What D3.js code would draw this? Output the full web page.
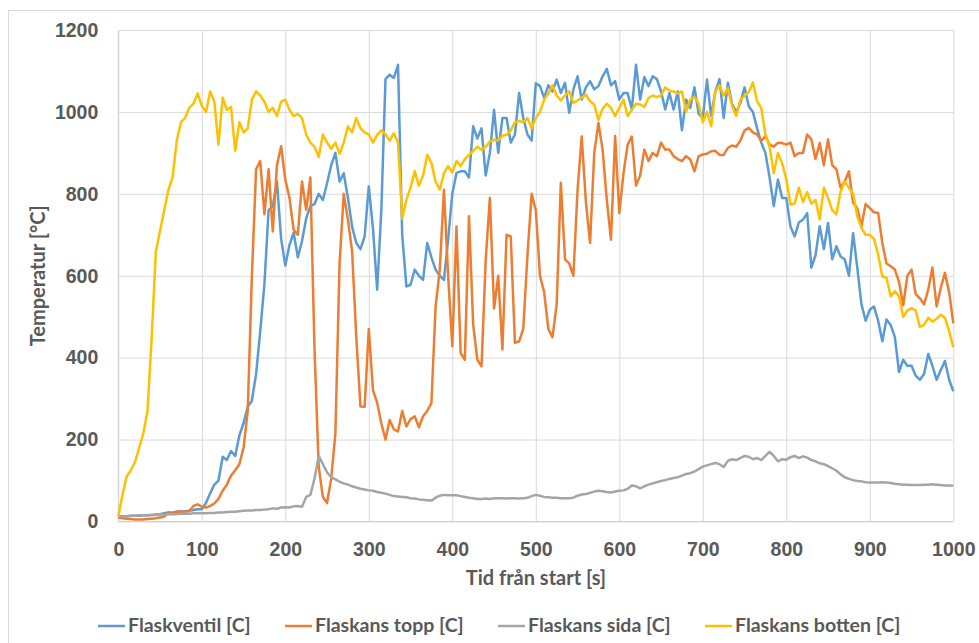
<!DOCTYPE html>
<html>
<head>
<meta charset="utf-8">
<script src="https://cdn.jsdelivr.net/npm/d3@7"></script>
<style>
  body { margin: 0; background: #fff; }
  svg { display: block; font-family: Lato, "Open Sans", sans-serif; font-weight: bold; }
  .tick text { fill: #595959; font-size: 19.5px; }
</style>
</head>
<body>
<svg id="chart" width="979" height="643"></svg>
<script>
// time axis, one reading every 5 s
var tid = d3.range(0, 1001, 5);

var flaskventil = [
  10, 12, 13, 14, 14, 14, 15, 15, 16, 17,
  18, 20, 22, 22, 24, 24, 25, 26, 28, 30,
  30, 45, 69, 90, 100, 158, 150, 172, 160, 210,
  240, 280, 295, 360, 465, 580, 760, 770, 830, 690,
  625, 675, 705, 645, 685, 740, 770, 775, 800, 785,
  826, 870, 900, 830, 850, 790, 720, 680, 665, 696,
  818, 715, 566, 760, 1080, 1091, 1083, 1115, 700, 574,
  578, 615, 600, 590, 680, 645, 615, 600, 590, 688,
  800, 851, 855, 855, 840, 965, 935, 960, 845, 900,
  1005, 900, 985, 985, 925, 945, 1046, 985, 945, 930,
  1070, 1063, 1035, 1065, 1050, 1079, 1046, 1071, 998, 1055,
  1087, 1030, 1060, 1075, 1055, 1063, 1087, 1105, 1065, 1075,
  1030, 1046, 1046, 1006, 1115, 1030, 1085, 1063, 1087, 1080,
  1050, 1006, 1046, 1006, 1050, 955, 1030, 1010, 1060, 995,
  985, 1079, 990, 1050, 1080, 985, 1071, 1020, 1000, 1022,
  1060, 1014, 1000, 960, 925, 900, 840, 770, 835, 790,
  790, 720, 696, 730, 737, 753, 620, 650, 721, 665,
  729, 640, 672, 647, 640, 600, 704, 620, 530, 490,
  517, 525, 490, 440, 493, 480, 450, 365, 395, 380,
  380, 356, 346, 360, 409, 380, 346, 370, 392, 346,
  318
];

var flaskansTopp = [
  10, 8, 7, 6, 5, 5, 5, 6, 7, 8,
  10, 12, 22, 18, 24, 25, 22, 26, 38, 42,
  36, 34, 38, 44, 55, 75, 90, 112, 125, 140,
  180, 270, 600, 860, 880, 750, 860, 708, 870, 916,
  835, 790, 712, 700, 830, 761, 840, 420, 134, 60,
  45, 105, 215, 631, 800, 737, 660, 450, 281, 280,
  470, 321, 290, 240, 200, 248, 225, 220, 270, 232,
  250, 257, 230, 257, 270, 289, 525, 615, 810, 600,
  428, 720, 411, 395, 745, 480, 395, 379, 639, 790,
  520, 600, 420, 700, 696, 436, 440, 470, 650, 800,
  760, 600, 560, 470, 450, 530, 827, 640, 630, 600,
  810, 940, 780, 680, 900, 973, 908, 786, 688, 941,
  753, 850, 920, 940, 820, 845, 908, 880, 900, 892,
  925, 908, 908, 892, 885, 880, 892, 884, 855, 892,
  896, 898, 904, 905, 895, 895, 912, 918, 915, 930,
  955, 961, 950, 945, 930, 940, 920, 915, 925, 924,
  920, 925, 892, 900, 900, 945, 933, 885, 924, 870,
  933, 870, 860, 815, 830, 855, 778, 765, 721, 775,
  765, 755, 753, 680, 630, 623, 615, 585, 528, 600,
  615, 555, 545, 530, 566, 620, 525, 570, 607, 560,
  484
];

var flaskansSida = [
  12, 13, 13, 14, 14, 15, 15, 15, 16, 16,
  17, 17, 18, 18, 18, 19, 19, 19, 20, 20,
  20, 20, 21, 21, 22, 22, 23, 24, 24, 25,
  26, 27, 27, 28, 28, 29, 30, 32, 31, 34,
  35, 34, 37, 38, 36, 60, 65, 105, 160, 140,
  120, 108, 103, 97, 93, 90, 86, 83, 80, 78,
  76, 75, 72, 70, 68, 65, 62, 61, 60, 59,
  57, 56, 54, 53, 52, 51, 58, 63, 65, 64,
  64, 64, 62, 60, 58, 57, 55, 55, 56, 55,
  57, 57, 57, 56, 57, 57, 56, 57, 58, 62,
  65, 63, 60, 59, 58, 58, 57, 57, 57, 58,
  63, 66, 67, 70, 73, 75, 74, 72, 71, 73,
  75, 76, 80, 88, 86, 81, 86, 90, 93, 96,
  99, 101, 104, 106, 108, 112, 116, 118, 122, 128,
  134, 137, 140, 143, 140, 133, 148, 152, 150, 155,
  160, 158, 152, 155, 150, 160, 170, 160, 147, 152,
  151, 157, 160, 155, 159, 156, 150, 147, 142, 140,
  135, 130, 124, 115, 108, 104, 101, 99, 98, 96,
  95, 95, 95, 96, 95, 94, 92, 91, 90, 90,
  89, 89, 89, 90, 90, 91, 90, 89, 88, 88,
  87
];

var flaskansBotten = [
  12, 65, 110, 125, 145, 180, 215, 270, 450, 660,
  710, 760, 810, 840, 930, 975, 985, 1010, 1020, 1045,
  1015, 1000, 1050, 1025, 920, 1035, 1005, 1012, 905, 975,
  950, 960, 1030, 1050, 1040, 1025, 1000, 1010, 990, 1025,
  1030, 1005, 990, 995, 985, 945, 925, 915, 890, 945,
  925, 910, 925, 898, 925, 965, 950, 985, 960, 950,
  945, 925, 944, 955, 945, 930, 948, 925, 740, 786,
  815, 855, 820, 845, 895, 875, 830, 810, 850, 868,
  852, 880, 868, 885, 895, 905, 915, 908, 915, 928,
  932, 930, 942, 944, 955, 975, 978, 975, 985, 960,
  985, 1000, 1030, 1045, 1065, 1040, 1028, 1040, 1050, 1022,
  1028, 1035, 1042, 1026, 1018, 980, 1008, 1020, 1010, 990,
  1010, 1030, 990, 1005, 1020, 1018, 1012, 1034, 1040, 1036,
  1040, 1060, 1052, 1050, 1045, 1050, 1000, 1030, 1036, 1020,
  975, 1000, 965, 1050, 1065, 1040, 1058, 1015, 990, 1030,
  1040, 1048, 1072, 1026, 1010, 945, 915, 850, 900, 875,
  835, 774, 776, 815, 780, 804, 776, 785, 738, 815,
  790, 760, 750, 805, 830, 815, 800, 745, 717, 700,
  700, 690, 652, 598, 595, 550, 562, 550, 500, 515,
  521, 515, 475, 480, 497, 488, 495, 505, 497, 465,
  425
];

var serier = [
  { namn: "Flaskventil [C]", varden: flaskventil, farg: "#5B9BD5" },
  { namn: "Flaskans topp [C]", varden: flaskansTopp, farg: "#ED7D31" },
  { namn: "Flaskans sida [C]", varden: flaskansSida, farg: "#A5A5A5" },
  { namn: "Flaskans botten [C]", varden: flaskansBotten, farg: "#FFC000" }
];

var xTicks = d3.range(0, 1001, 100);
var yTicks = d3.range(0, 1201, 200);

var svg = d3.select("#chart");

// chart border
svg.append("rect")
  .attr("x", 8.5).attr("y", 10.5)
  .attr("width", 990).attr("height", 650)
  .attr("fill", "none").attr("stroke", "#d9d9d9");

var plot = { left: 118.3, right: 953.3, top: 30, bottom: 521.5 };

var x = d3.scaleLinear().domain([0, 1000]).range([plot.left, plot.right]);
var y = d3.scaleLinear().domain([0, 1200]).range([plot.bottom, plot.top]);

// gridlines
svg.append("g")
  .attr("transform", "translate(0," + plot.bottom + ")")
  .call(d3.axisBottom(x).tickValues(xTicks).tickSize(-(plot.bottom - plot.top)).tickFormat(""))
  .call(function(g) { g.select(".domain").remove(); })
  .selectAll("line").attr("stroke", "#d9d9d9");

svg.append("g")
  .attr("transform", "translate(" + plot.left + ",0)")
  .call(d3.axisLeft(y).tickValues(yTicks).tickSize(-(plot.right - plot.left)).tickFormat(""))
  .call(function(g) { g.select(".domain").remove(); })
  .selectAll("line").attr("stroke", "#d9d9d9");

// axis lines
svg.append("line")
  .attr("x1", plot.left).attr("x2", plot.right).attr("y1", plot.bottom).attr("y2", plot.bottom)
  .attr("stroke", "#d0d0d0");
svg.append("line")
  .attr("x1", plot.left).attr("x2", plot.left).attr("y1", plot.top).attr("y2", plot.bottom)
  .attr("stroke", "#d0d0d0");

// tick labels
svg.append("g")
  .attr("transform", "translate(0," + plot.bottom + ")")
  .call(d3.axisBottom(x).tickValues(xTicks).tickSize(0).tickPadding(21).tickFormat(d3.format("d")))
  .call(function(g) { g.select(".domain").remove(); });

svg.append("g")
  .attr("transform", "translate(" + plot.left + ",0)")
  .call(d3.axisLeft(y).tickValues(yTicks).tickSize(0).tickPadding(20).tickFormat(d3.format("d")))
  .call(function(g) { g.select(".domain").remove(); });

// series
var line = d3.line()
  .x(function(d, i) { return x(tid[i]); })
  .y(function(d) { return y(d); });

serier.forEach(function(s) {
  svg.append("path")
    .datum(s.varden)
    .attr("fill", "none")
    .attr("stroke", s.farg)
    .attr("stroke-width", 2.5)
    .attr("stroke-linejoin", "round")
    .attr("d", line);
});

// axis titles
svg.append("text")
  .attr("x", 536).attr("y", 580)
  .attr("text-anchor", "middle").attr("dominant-baseline", "middle")
  .attr("fill", "#595959").style("font-size", "20px")
  .text("Tid från start [s]");

svg.append("text")
  .attr("transform", "translate(40," + ((plot.top + plot.bottom) / 2) + ") rotate(-90)")
  .attr("text-anchor", "middle").attr("dominant-baseline", "middle")
  .attr("fill", "#595959").style("font-size", "20px")
  .text("Temperatur [°C]");

// legend
var legendX = [98, 285, 498, 705];
var legend = svg.append("g");
serier.forEach(function(s, i) {
  legend.append("line")
    .attr("x1", legendX[i]).attr("x2", legendX[i] + 27)
    .attr("y1", 626).attr("y2", 626)
    .attr("stroke", s.farg).attr("stroke-width", 2.5);
  legend.append("text")
    .attr("x", legendX[i] + 30).attr("y", 627)
    .attr("dominant-baseline", "middle")
    .attr("fill", "#595959").style("font-size", "19.5px")
    .text(s.namn);
});
</script>
</body>
</html>
